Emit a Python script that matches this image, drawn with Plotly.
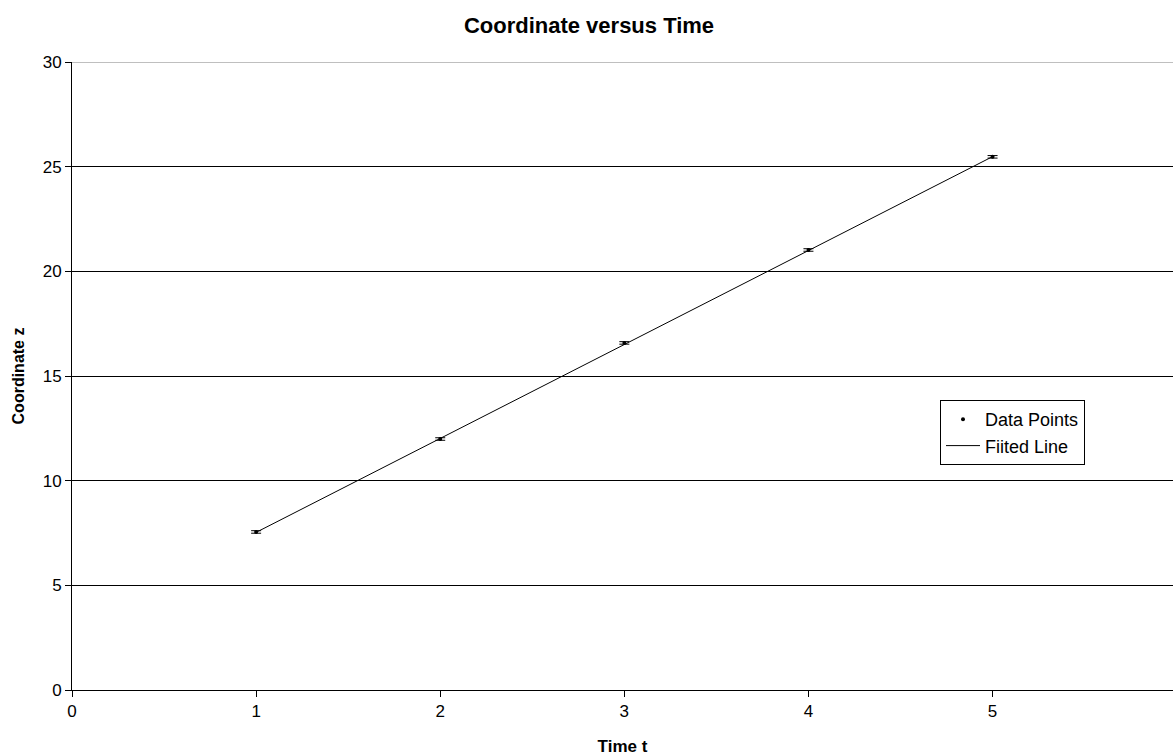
import plotly.graph_objects as go

# Data
time_t = [1, 2, 3, 4, 5]
coord_z = [7.55, 11.99, 16.58, 21.02, 25.47]
z_err = [0.06, 0.06, 0.06, 0.06, 0.06]

fit_t = [1, 5]
fit_z = [7.53, 25.48]

x_ticks = [0, 1, 2, 3, 4, 5, 6]
y_ticks = [0, 5, 10, 15, 20, 25, 30]

FONT = "Liberation Sans, Arial, sans-serif"

W, H = 1173, 756
L, R, T, B = 72, 0, 62, 66
PW, PH = W - L - R, H - T - B

fig = go.Figure()

fig.add_trace(go.Scatter(
    x=time_t, y=coord_z, mode="markers", name="Data Points",
    marker=dict(color="black", size=4, symbol="circle"),
    error_y=dict(type="data", array=z_err, color="black", thickness=1, width=5, visible=True),
))

fig.add_trace(go.Scatter(
    x=fit_t, y=fit_z, mode="lines", name="Fiited Line",
    line=dict(color="black", width=1),
))

fig.update_layout(
    width=W, height=H,
    margin=dict(l=L, r=R, t=T, b=B, autoexpand=False),
    paper_bgcolor="white", plot_bgcolor="white",
    font=dict(family=FONT, size=17, color="black"),
    title=dict(text="<b>Coordinate versus Time</b>", x=589 / W, xanchor="center",
               xref="container", y=1 - 25 / H, yanchor="middle",
               font=dict(family=FONT, size=22, color="black")),
    showlegend=True,
    legend=dict(x=(940 - L) / PW, y=1 - (400 - T) / PH, xref="paper", yref="paper",
                xanchor="left", yanchor="top",
                bordercolor="black", borderwidth=1, bgcolor="white",
                font=dict(family=FONT, size=18, color="black"),
                tracegroupgap=0, itemwidth=34),
    xaxis=dict(range=[0, 5.98], tickvals=x_ticks, ticktext=[str(v) for v in x_ticks],
               automargin=False,
               showgrid=False, zeroline=False, showline=True, linecolor="black", linewidth=1,
               ticks="outside", ticklen=6, tickcolor="black",
               tickfont=dict(family=FONT, size=17),
               title=dict(text="<b>Time t</b>", font=dict(family=FONT, size=17), standoff=20)),
    yaxis=dict(range=[0, 30], tickvals=y_ticks, automargin=False,
               showgrid=True, gridcolor="black", gridwidth=1, zeroline=False,
               showline=True, linecolor="black", linewidth=1,
               ticks="outside", ticklen=6, tickcolor="black",
               tickfont=dict(family=FONT, size=17),
               title=dict(text="<b>Coordinate z</b>", font=dict(family=FONT, size=16), standoff=14)),
    shapes=[dict(type="line", xref="paper", yref="y", x0=0, x1=1, y0=30, y1=30,
                 line=dict(color="#808080", width=1), layer="above")],
)

fig.write_html("out.html", config={"displayModeBar": False},
               post_script="document.body.style.margin='0';document.body.style.overflow='hidden';")
